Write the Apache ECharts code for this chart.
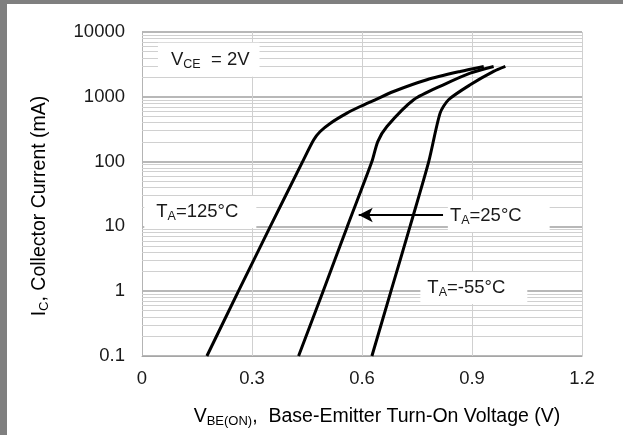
<!DOCTYPE html>
<html>
<head>
<meta charset="utf-8">
<script src="https://cdn.jsdelivr.net/npm/echarts@6/dist/echarts.min.js"></script>
<style>
  html, body { margin: 0; padding: 0; background: #fff; }
  #chart { width: 623px; height: 435px; }
</style>
</head>
<body>
<div id="chart"></div>
<script>
// Base-emitter turn-on voltage (V) against collector current (mA), VCE = 2V
const vbe125 = [0.177, 0.263, 0.350, 0.438, 0.468, 0.486, 0.514, 0.559, 0.595, 0.636, 0.686, 0.777, 0.868, 0.932];
const ic125  = [0.1,   1,     10,    100,   216,   291,   392,   560,   708,   900,   1208,  1832,  2462,  2940];

const vbe25 = [0.427, 0.494, 0.560, 0.627, 0.643, 0.668, 0.741, 0.822, 0.895, 0.959];
const ic25  = [0.1,   1,     10,    100,   204,   348,   900,   1532,  2323,  2940];

const vbeM55 = [0.627, 0.679, 0.731, 0.782, 0.813, 0.836, 0.895, 0.959, 0.991];
const icM55  = [0.1,   1,     10,    100,   560,   900,   1532,  2462,  2940];

const xTickLabels = ['0', '0.3', '0.6', '0.9', '1.2'];
const yTickLabels = ['0.1', '1', '10', '100', '1000', '10000'];

// minor log grid: 2..9 within every decade
const decadeStarts = [0.1, 1, 10, 100, 1000];
const minorSteps = [2, 3, 4, 5, 6, 7, 8, 9];

const FONT = '"Liberation Sans", Arial, Helvetica, sans-serif';
const INK = '#1a1a1a';
const MAIN = 18.5;
const SUB = 12.5;

const richFor = (main, sub) => ({
  m: { fontSize: main, fontFamily: FONT, color: INK, lineHeight: 22 },
  s: { fontSize: sub, fontFamily: FONT, color: INK, lineHeight: 13, verticalAlign: 'bottom' }
});
const rich = richFor(MAIN, SUB);
const titleRich = richFor(19.5, 13);

const zip = (xs, ys) => xs.map((x, i) => [x, ys[i]]);

const minorLines = [];
decadeStarts.forEach(d => minorSteps.forEach(k => minorLines.push({ yAxis: +(d * k).toPrecision(3) })));

const curve = (name, xs, ys) => ({
  name, type: 'line', data: zip(xs, ys), z: 5,
  showSymbol: false, smooth: 0.25,
  lineStyle: { color: '#000', width: 3 },
  emphasis: { disabled: true }
});

const tag = (coord, formatter, padding) => ({ coord, label: { formatter, padding } });

const chart = echarts.init(document.getElementById('chart'), null, { renderer: 'canvas' });

chart.setOption({
  animation: false,
  backgroundColor: '#fff',
  grid: { left: 142, right: 41, top: 32, bottom: 79 },
  xAxis: {
    type: 'value', min: 0, max: 1.2, interval: 0.3,
    axisLine: { show: true, lineStyle: { color: '#a6a6a6', width: 1 } },
    axisTick: { show: false },
    axisLabel: {
      margin: 13, fontSize: MAIN, fontFamily: FONT, color: INK,
      formatter: (v) => xTickLabels[Math.round(v / 0.3)]
    },
    splitLine: { show: true, lineStyle: { color: '#d0d0d0', width: 1 } }
  },
  yAxis: {
    type: 'log', logBase: 10, min: 0.1, max: 10000,
    axisLine: { show: true, lineStyle: { color: '#b4b4b4', width: 1 } },
    axisTick: { show: false },
    axisLabel: {
      margin: 17, fontSize: MAIN, fontFamily: FONT, color: INK,
      formatter: (v) => yTickLabels[Math.round(Math.log10(v)) + 1]
    },
    splitLine: { show: true, lineStyle: { color: '#a0a0a0', width: 1.5 } }
  },
  graphic: [
    { type: 'rect', shape: { x: 0, y: 0, width: 623, height: 4 }, style: { fill: '#7f7f7f' }, silent: true },
    { type: 'rect', shape: { x: 0, y: 0, width: 7, height: 435 }, style: { fill: '#7f7f7f' }, silent: true },
    {
      type: 'text', x: 377, y: 417, silent: true,
      style: {
        text: '{m|V}{s|BE(ON)}{m|,  Base-Emitter Turn-On Voltage (V)}',
        rich: titleRich, align: 'center', verticalAlign: 'middle'
      }
    },
    {
      type: 'text', x: 40, y: 206, rotation: Math.PI / 2, silent: true,
      style: {
        text: '{m|I}{s|C}{m|, Collector Current (mA)}',
        rich: titleRich, align: 'center', verticalAlign: 'middle'
      }
    }
  ],
  series: [
    {
      name: 'minor grid', type: 'line', data: [], z: 1, silent: true,
      markLine: {
        silent: true, symbol: 'none', animation: false,
        label: { show: false },
        lineStyle: { color: '#d0d0d0', width: 1, type: 'solid' },
        emphasis: { disabled: true },
        data: minorLines
      }
    },
    {
      name: 'notes', type: 'line', data: [], z: 3, silent: true,
      markPoint: {
        silent: true, symbol: 'rect', symbolSize: 1,
        itemStyle: { color: 'rgba(0,0,0,0)' },
        label: { show: true, position: 'inside', backgroundColor: '#fff', rich },
        data: [
          tag([0.182, 3733], '{m|V}{s|CE}{m|  = 2V}', [6, 10, 6, 13]),
          tag([0.159, 16.7], '{m|T}{s|A}{m|=125°C}', [5, 18, 5, 12]),
          tag([0.973, 14.5], '{m|T}{s|A}{m|=25°C}', [5, 28, 5, 2]),
          tag([0.905, 1.12], '{m|T}{s|A}{m|=-55°C}', [5, 22, 5, 7])
        ]
      },
      markLine: {
        silent: true, symbol: ['none', 'arrow'], symbolSize: [11, 14],
        label: { show: false },
        lineStyle: { color: '#000', width: 2, type: 'solid' },
        emphasis: { disabled: true },
        data: [[{ coord: [0.821, 15] }, { coord: [0.591, 15] }]]
      }
    },
    curve('TA=125°C', vbe125, ic125),
    curve('TA=25°C', vbe25, ic25),
    curve('TA=-55°C', vbeM55, icM55)
  ]
});
</script>
</body>
</html>
